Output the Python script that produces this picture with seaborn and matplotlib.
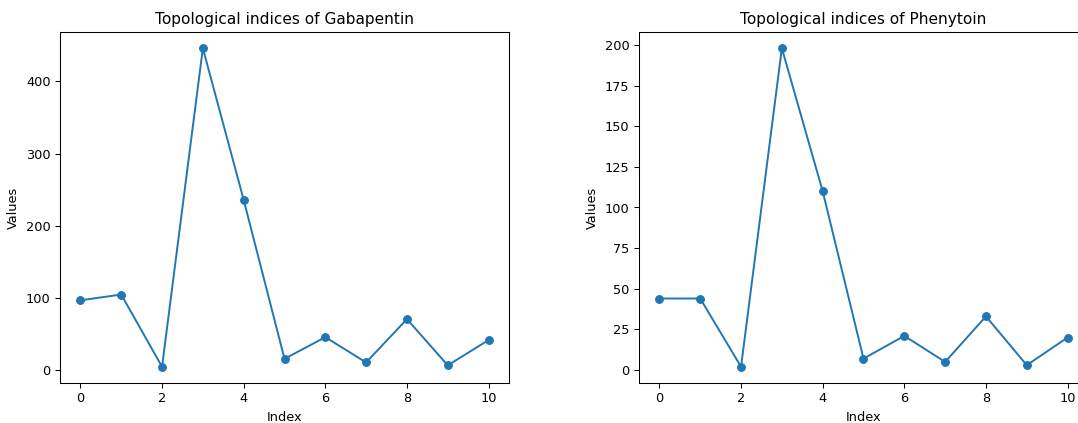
import matplotlib
matplotlib.use("Agg")
import matplotlib.pyplot as plt
import seaborn as sns
import pandas as pd

# values
index = list(range(11))
gabapentin = [97, 105, 5, 446, 236, 16, 46, 11, 71, 7, 42]
phenytoin = [44, 44, 2, 198, 110, 7, 21, 5, 33, 3, 20]

drugs = ["Gabapentin", "Phenytoin"]
series = [gabapentin, phenytoin]

DPI = 100
fig = plt.figure(figsize=(10.78, 4.23), dpi=DPI)

# axes placed by pixel, right panel runs past the edge like the original crop
W, H = 1078, 423
boxes = [(60, 32.3, 449, 350.4), (639, 32.3, 449, 350.4)]

for (x0, y0, w, h), name, vals in zip(boxes, drugs, series):
    ax = fig.add_axes([x0 / W, (H - y0 - h) / H, w / W, h / H])
    df = pd.DataFrame({"Index": index, "Values": vals})
    sns.lineplot(data=df, x="Index", y="Values", ax=ax, marker="o",
                 color="#1f77b4", markeredgecolor="#1f77b4", linewidth=1.4,
                 markersize=5.6)
    ax.set_title(f"Topological indices of {name}", fontsize=11.1)
    ax.set_xlabel("Index", fontsize=9.3)
    ax.set_ylabel("Values", fontsize=9.3)
    ax.tick_params(labelsize=9.3, width=0.75, length=3.3)
    for s in ax.spines.values():
        s.set_linewidth(0.75)

fig.savefig("out.png", dpi=DPI)
